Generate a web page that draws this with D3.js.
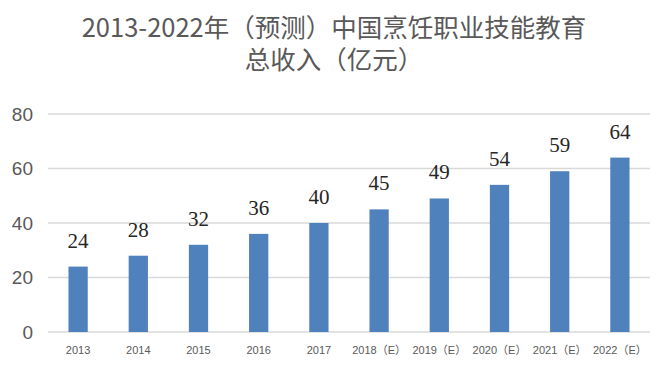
<!DOCTYPE html>
<html>
<head>
<meta charset="utf-8">
<script src="https://cdn.jsdelivr.net/npm/d3@7"></script>
<style>
  body { margin: 0; background: #fff; }
  svg { display: block; }
</style>
</head>
<body>
<script>
// data
var years = ["2013", "2014", "2015", "2016", "2017", "2018（E）", "2019（E）", "2020（E）", "2021（E）", "2022（E）"];
var revenue = [24, 28, 32, 36, 40, 45, 49, 54, 59, 64];
var yTicks = [0, 20, 40, 60, 80];
var titleLines = ["2013-2022年（预测）中国烹饪职业技能教育", "总收入（亿元）"];

var width = 672, height = 368;
var margin = {top: 114, right: 22, bottom: 36, left: 48};

var svg = d3.select("body").append("svg")
    .attr("width", width)
    .attr("height", height);

var x = d3.scaleBand()
    .domain(years)
    .range([margin.left, width - margin.right])
    .paddingInner(0.68)
    .paddingOuter(0.34);

var y = d3.scaleLinear()
    .domain([0, 80])
    .range([height - margin.bottom, margin.top]);

// title
svg.append("g").selectAll("text")
    .data(titleLines)
  .enter().append("text")
    .attr("x", 334)
    .attr("y", function(d, i) { return 37 + i * 32; })
    .attr("text-anchor", "middle")
    .attr("fill", "#595959")
    .style("font-family", "'Noto Sans CJK SC', 'Liberation Sans', sans-serif")
    .style("font-size", "25.5px")
    .text(function(d) { return d; });

// gridlines
svg.append("g").selectAll("line")
    .data(yTicks)
  .enter().append("line")
    .attr("x1", margin.left)
    .attr("x2", width - margin.right)
    .attr("y1", function(d) { return y(d); })
    .attr("y2", function(d) { return y(d); })
    .attr("stroke", "#d9d9d9")
    .attr("stroke-width", 1.5);

// y axis labels
svg.append("g").selectAll("text")
    .data(yTicks)
  .enter().append("text")
    .attr("x", 33)
    .attr("y", function(d) { return y(d); })
    .attr("dy", "0.35em")
    .attr("text-anchor", "end")
    .attr("fill", "#595959")
    .style("font-family", "'Liberation Sans', sans-serif")
    .style("font-size", "19px")
    .text(function(d) { return d; });

// bars
svg.append("g").selectAll("rect")
    .data(revenue)
  .enter().append("rect")
    .attr("x", function(d, i) { return x(years[i]); })
    .attr("y", function(d) { return y(d); })
    .attr("width", x.bandwidth())
    .attr("height", function(d) { return y(0) - y(d); })
    .attr("fill", "#4f81bd");

// value labels
svg.append("g").selectAll("text")
    .data(revenue)
  .enter().append("text")
    .attr("x", function(d, i) { return x(years[i]) + x.bandwidth() / 2; })
    .attr("y", function(d) { return y(d) - 19; })
    .attr("text-anchor", "middle")
    .attr("fill", "#262626")
    .style("font-family", "'Liberation Serif', serif")
    .style("font-size", "21px")
    .text(function(d) { return d; });

// x axis labels
svg.append("g").selectAll("text")
    .data(years)
  .enter().append("text")
    .attr("x", function(d) { return x(d) + x.bandwidth() / 2; })
    .attr("y", 354)
    .attr("text-anchor", "middle")
    .attr("fill", "#595959")
    .style("font-family", "'Liberation Sans', 'Noto Sans CJK SC', sans-serif")
    .style("font-size", "11px")
    .text(function(d) { return d; });
</script>
</body>
</html>
